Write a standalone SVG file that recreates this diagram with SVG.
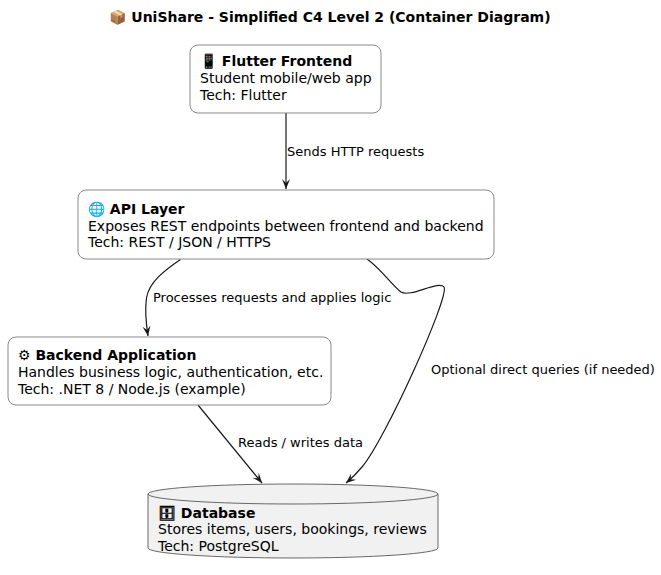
<svg xmlns="http://www.w3.org/2000/svg" width="661" height="575" viewBox="0 0 661 575">
<defs>
<style>
text{font-family:"DejaVu Sans","Verdana",sans-serif;font-size:14px;fill:#000}
.b{font-weight:bold}
.lbl{font-size:13px}
.box{fill:#fff;stroke:#888;stroke-width:1}
.db{fill:#F1F1F1;stroke:#444;stroke-width:0.8}
.edge{fill:none;stroke:#181818;stroke-width:1.2}
</style>
<marker id="ah" viewBox="0 0 10 10" refX="10" refY="5" markerWidth="10" markerHeight="10" markerUnits="userSpaceOnUse" orient="auto">
<path d="M0,1 L10,5 L0,9 L4,5 Z" fill="#181818"/>
</marker>
</defs>
<rect width="661" height="575" fill="#fff"/>
<text class="b" x="330" y="22" text-anchor="middle">📦 UniShare - Simplified C4 Level 2 (Container Diagram)</text>

<g id="connectors">
<path class="edge" d="M286,113 L286,189" marker-end="url(#ah)"/>
<text class="lbl" x="287" y="156">Sends HTTP requests</text>
<path class="edge" d="M180.5,259.5 C165,270 149,282 146.5,298 C144.5,312 146,323 148,336" marker-end="url(#ah)"/>
<text class="lbl" x="153" y="302">Processes requests and applies logic</text>
<path class="edge" d="M367,259 C380,268 392,285 401,292 C410,298 439,280 444,287 C450,296 385,440 362,467 C357,473 352,478 346,483" marker-end="url(#ah)"/>
<text class="lbl" x="431" y="374">Optional direct queries (if needed)</text>
<path class="edge" d="M198,405 L262,483" marker-end="url(#ah)"/>
<text class="lbl" x="238" y="447">Reads / writes data</text>
</g>

<g id="flutter">
<rect class="box" x="190" y="45" width="191" height="68" rx="8"/>
<text class="b" x="200" y="66">📱 Flutter Frontend</text>
<text x="200" y="83">Student mobile/web app</text>
<text x="200" y="100">Tech: Flutter</text>
</g>

<g id="api">
<rect class="box" x="78" y="190" width="416" height="69" rx="8"/>
<text class="b" x="88" y="214">🌐 API Layer</text>
<text x="88" y="231">Exposes REST endpoints between frontend and backend</text>
<text x="88" y="247">Tech: REST / JSON / HTTPS</text>
</g>

<g id="backend">
<rect class="box" x="8" y="337" width="323" height="68" rx="8"/>
<text class="b" x="18" y="360">⚙ Backend Application</text>
<text x="18" y="377">Handles business logic, authentication, etc.</text>
<text x="18" y="394">Tech: .NET 8 / Node.js (example)</text>
</g>

<g id="database">
<path class="db" d="M148,494 A145,10 0 0 1 438,494 L438,548 A145,10 0 0 1 148,548 Z"/>
<path class="db" d="M148,494 A145,10 0 0 0 438,494" fill="none"/>
<text class="b" x="158" y="518">🗄 Database</text>
<text x="158" y="534">Stores items, users, bookings, reviews</text>
<text x="158" y="551">Tech: PostgreSQL</text>
</g>
</svg>
